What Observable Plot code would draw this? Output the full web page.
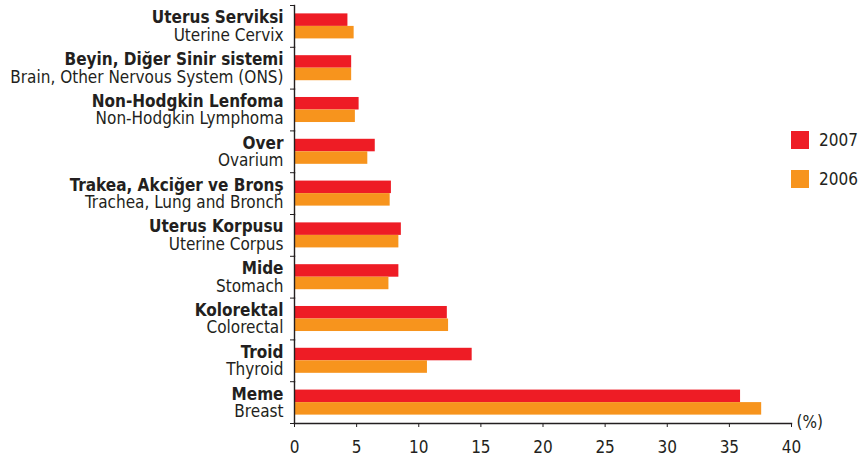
<!DOCTYPE html>
<html>
<head>
<meta charset="utf-8">
<script src="https://cdn.jsdelivr.net/npm/d3@7"></script>
<script src="https://cdn.jsdelivr.net/npm/@observablehq/plot@0.6"></script>
<style>
  html, body { margin: 0; padding: 0; background: #fff; }
  #wrap { position: relative; width: 865px; height: 461px; font-family: 'DejaVu Sans Condensed', 'DejaVu Sans', sans-serif; color: #231f20; }
  .leg { position: absolute; left: 791px; display: flex; align-items: center; font-size: 17px; line-height: 18px; }
  .leg span.sw { width: 18px; height: 18px; display: inline-block; margin-right: 10px; }
</style>
</head>
<body>
<div id="wrap"></div>
<script>
const categoriesTr = ["Uterus Serviksi","Beyin, Diğer Sinir sistemi","Non-Hodgkin Lenfoma","Over","Trakea, Akciğer ve Bronş","Uterus Korpusu","Mide","Kolorektal","Troid","Meme"];
const categoriesEn = ["Uterine Cervix","Brain, Other Nervous System (ONS)","Non-Hodgkin Lymphoma","Ovarium","Trachea, Lung and Bronch","Uterine Corpus","Stomach","Colorectal","Thyroid","Breast"];
const years = ["2007","2006"];
const values2007 = [4.3,4.6,5.2,6.5,7.8,8.6,8.4,12.3,14.3,35.9];
const values2006 = [4.8,4.6,4.9,5.9,7.7,8.4,7.6,12.4,10.7,37.6];
const xTicks = [0,5,10,15,20,25,30,35,40];
const colors = ["#ee1c25","#f7941d"];
const unitLabel = "(%)";

const rows = categoriesTr.flatMap((c, i) => [
  {cat: c, year: years[0], value: values2007[i]},
  {cat: c, year: years[1], value: values2006[i]}
]);
const labels = categoriesTr.map((c, i) => ({cat: c, en: categoriesEn[i]}));

const W = 865, H = 461, mt = 5, mb = 38, ml = 294, mr = 74;
const step = (H - mt - mb) / categoriesTr.length;
const font = "'DejaVu Sans Condensed', 'DejaVu Sans', sans-serif";
const ink = "#231f20";
const fs = 17;

const chart = Plot.plot({
  width: W, height: H,
  marginTop: mt, marginBottom: mb, marginLeft: ml, marginRight: mr,
  style: {fontFamily: font, color: ink, background: "#fff"},
  x: {domain: [0, 40]},
  fy: {domain: categoriesTr, padding: 0, round: false, label: null},
  y: {domain: years, paddingInner: 0, paddingOuter: 0.67, round: false, axis: null},
  color: {domain: years, range: colors},
  marks: [
    Plot.barX(rows, {fy: "cat", y: "year", x: "value", fill: "year"}),
    Plot.frame({anchor: "left", stroke: ink, strokeWidth: 1.4}),
    Plot.frame({anchor: "bottom", stroke: ink, strokeWidth: 1.4, facetAnchor: "bottom"}),
    Plot.axisFy({anchor: "left", tickSize: 4, tickFormat: () => "", label: null, dy: -step / 2, stroke: ink}),
    Plot.axisFy({anchor: "left", ticks: [categoriesTr[categoriesTr.length - 1]], tickSize: 4, tickFormat: () => "", label: null, dy: step / 2, stroke: ink}),
    Plot.axisX({ticks: xTicks, tickSize: 4, tickPadding: 13, fontSize: fs, label: null, stroke: ink, fill: ink}),
    Plot.text(labels, {fy: "cat", frameAnchor: "left", text: "cat", textAnchor: "end", dx: -11, dy: -8.5, fontWeight: "bold", fontSize: fs, fill: ink}),
    Plot.text(labels, {fy: "cat", frameAnchor: "left", text: "en", textAnchor: "end", dx: -11, dy: 9, fontSize: fs, fill: ink}),
    Plot.text([unitLabel], {fy: () => categoriesTr[categoriesTr.length - 1], frameAnchor: "bottom-right", lineAnchor: "middle", text: d => d, textAnchor: "start", dx: 5, dy: -1, fontSize: fs, fill: ink})
  ]
});

const wrap = document.getElementById("wrap");
wrap.appendChild(chart);
const legendTops = [131, 170];
years.forEach((y, i) => {
  const d = document.createElement("div");
  d.className = "leg";
  d.style.top = legendTops[i] + "px";
  d.innerHTML = `<span class="sw" style="background:${colors[i]}"></span><span>${y}</span>`;
  wrap.appendChild(d);
});
</script>
</body>
</html>
